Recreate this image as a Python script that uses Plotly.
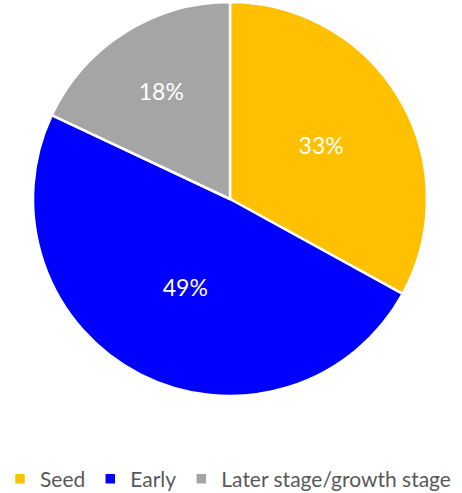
import plotly.graph_objects as go

categories = ["Seed", "Early", "Later stage/growth stage"]
values = [33, 49, 18]
colors = ["#FFC000", "#0000FF", "#A5A5A5"]

W, H = 462, 493
cx, cy, r = 230, 199, 197

fig = go.Figure(go.Pie(
    labels=categories,
    values=values,
    sort=False,
    direction="clockwise",
    rotation=0,
    marker=dict(colors=colors, line=dict(color="white", width=2.5)),
    texttemplate="%{value}%",
    textposition="inside",
    insidetextorientation="horizontal",
    textfont=dict(color="white", size=23, family="Lato"),
    hoverinfo="label+value",
    domain=dict(x=[(cx - r) / W, (cx + r) / W], y=[1 - (cy + r) / H, 1 - (cy - r) / H]),
))

fig.update_layout(
    width=W, height=H,
    margin=dict(l=0, r=0, t=0, b=0, autoexpand=False),
    paper_bgcolor="white",
    plot_bgcolor="white",
    font=dict(family="Lato", color="#595959", size=21),
    legend=dict(
        orientation="h",
        x=0.0, xanchor="left",
        y=1 - 479 / H, yanchor="middle",
        font=dict(size=21, color="#595959"),
        itemwidth=30,
        traceorder="normal",
        bgcolor="rgba(0,0,0,0)",
    ),
    showlegend=True,
)

fig.write_html(
    "out.html",
    config={"displayModeBar": False},
    post_script="document.body.style.margin='0px';",
)
